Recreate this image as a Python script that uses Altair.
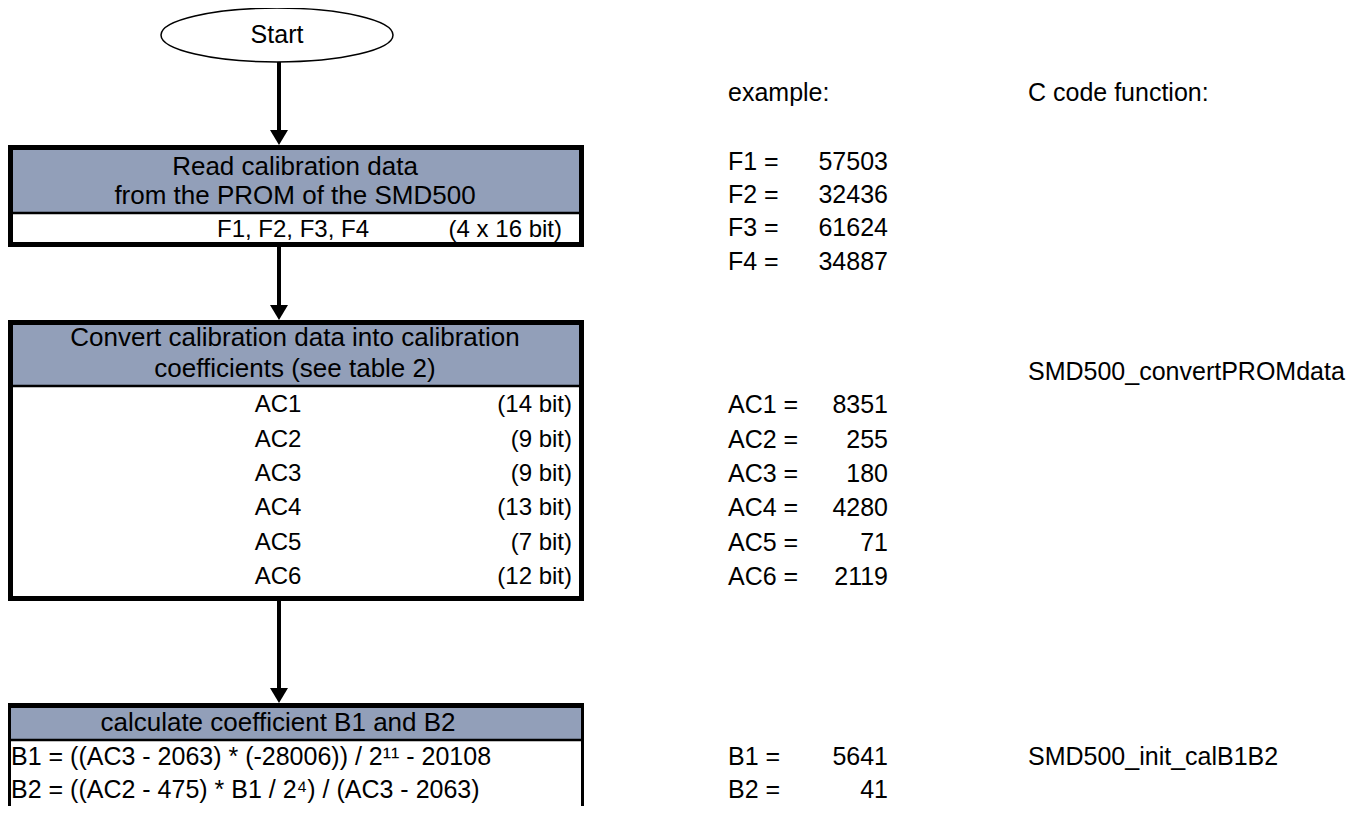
import altair as alt
import pandas as pd

# ---------------- content ----------------
start_label = "Start"
step1_title = ["Read calibration data", "from the PROM of the SMD500"]
step2_title = ["Convert calibration data into calibration", "coefficients (see table 2)"]
step3_title = ["calculate coefficient B1 and B2"]
prom_names = ["F1", "F2", "F3", "F4"]
prom_values = [57503, 32436, 61624, 34887]
prom_bits = "(4 x 16 bit)"
coef_names = ["AC1", "AC2", "AC3", "AC4", "AC5", "AC6"]
coef_bits = [14, 9, 9, 13, 7, 12]
coef_values = [8351, 255, 180, 4280, 71, 2119]
b_names = ["B1", "B2"]
b_values = [5641, 41]
b_formulas = ["B1 = ((AC3 - 2063) * (-28006)) / 2\u00b9\u00b9 - 20108",
              "B2 = ((AC2 - 475) * B1 / 2\u2074) / (AC3 - 2063)"]
col_heads = ["example:", "C code function:"]
c_functions = ["SMD500_convertPROMdata", "SMD500_init_calB1B2"]

# ---------------- layout (page pixels) ----------------
FONT = "Liberation Sans"
FS_BOX = 24
FS_HEAD = 26
FS_FORM = 25
FS_SIDE = 25
HEAD_FILL = "#929fb9"
BOX_L, BOX_R = 8, 584
ARROW_X = 279
HEAD_MID = 295
BODY_MID = 278
BITS_R = 572
EX_L, EX_R = 728, 888
FN_L = 1028

box1 = dict(top=145, sep=213, bot=247)
box2 = dict(top=320, sep=386, bot=601)
box3 = dict(top=703, sep=740, bot=812)

head1_y = [167, 196]
prom_row_y = 230
head2_y = [338, 369]
coef_y = [405, 440, 474, 508, 543, 577]
head3_y = [723]
b_y = [757, 790]
prom_ex_y = [162, 195, 228, 262]
head_row_y = 93
fn_y = [372, 757]

X = lambda f="x": alt.X(f"{f}:Q", scale=alt.Scale(domain=[8, 1355], nice=False, zero=False), axis=None)
Y = lambda f="y": alt.Y(f"{f}:Q", scale=alt.Scale(domain=[8, 806], nice=False, zero=False, reverse=True), axis=None)

# header fills
fills = pd.DataFrame([dict(x=BOX_L, x2=BOX_R, y=b["top"], y2=b["sep"]) for b in (box1, box2, box3)])
fill_layer = alt.Chart(fills).mark_rect(color=HEAD_FILL).encode(
    x=X(), x2="x2:Q", y=Y(), y2="y2:Q")

# separators between header and body
seps = pd.DataFrame([dict(x=BOX_L, x2=BOX_R, y=b["sep"]) for b in (box1, box2, box3)])
sep_layer = alt.Chart(seps).mark_rule(color="black", strokeWidth=2.5).encode(
    x=X(), x2="x2:Q", y=Y())

# thick outlines for boxes 1 and 2
outl = pd.DataFrame([
    dict(x=BOX_L + 2.5, x2=BOX_R - 2.5, y=b["top"] + 2.5, y2=b["bot"] - 2.5) for b in (box1, box2)
])
outline_layer = alt.Chart(outl).mark_rect(fillOpacity=0, stroke="black", strokeWidth=5).encode(
    x=X(), x2="x2:Q", y=Y(), y2="y2:Q")

# box 3: thinner outline with thick top
out3 = pd.DataFrame([dict(x=BOX_L + 1.5, x2=BOX_R - 1.5, y=box3["top"] + 1.5, y2=box3["bot"] - 1.5)])
out3_layer = alt.Chart(out3).mark_rect(fillOpacity=0, stroke="black", strokeWidth=3).encode(
    x=X(), x2="x2:Q", y=Y(), y2="y2:Q")
top3 = pd.DataFrame([dict(x=BOX_L, x2=BOX_R, y=box3["top"] + 2.5)])
top3_layer = alt.Chart(top3).mark_rule(color="black", strokeWidth=5).encode(
    x=X(), x2="x2:Q", y=Y())

# start ellipse
ell = pd.DataFrame([dict(x=277, y=35)])
ell_layer = alt.Chart(ell).mark_point(
    shape="M-1,0A1,0.232,0,1,1,1,0A1,0.232,0,1,1,-1,0Z",
    size=232 ** 2, filled=False, color="black", strokeWidth=1.5, opacity=1).encode(x=X(), y=Y())

# arrows
arrows = pd.DataFrame([
    dict(x=ARROW_X, y=62, y2=box1["top"] - 12),
    dict(x=ARROW_X, y=box1["bot"], y2=box2["top"] - 12),
    dict(x=ARROW_X, y=box2["bot"], y2=box3["top"] - 12),
])
arrow_layer = alt.Chart(arrows).mark_rule(color="black", strokeWidth=4).encode(
    x=X(), y=Y(), y2="y2:Q")
heads = pd.DataFrame([dict(x=ARROW_X, y=t - 7.5) for t in (box1["top"], box2["top"], box3["top"])])
head_layer = alt.Chart(heads).mark_point(
    shape="M-1,-0.83L1,-0.83L0,0.83Z", size=18 ** 2, filled=True, color="black", opacity=1).encode(
    x=X(), y=Y())

# text
def txt(rows, align, fs):
    df = pd.DataFrame(rows, columns=["x", "y", "t"])
    return alt.Chart(df).mark_text(align=align, baseline="middle", font=FONT, fontSize=fs,
                                   color="black").encode(x=X(), y=Y(), text="t:N")

head_rows = [(HEAD_MID, y, t) for y, t in zip(head1_y, step1_title)]
head_rows += [(HEAD_MID, y, t) for y, t in zip(head2_y, step2_title)]
head_rows += [(278, y, t) for y, t in zip(head3_y, step3_title)]

center_rows = [(293, prom_row_y, ", ".join(prom_names))]
center_rows += [(BODY_MID, y, n) for y, n in zip(coef_y, coef_names)]

right_box = [(562, prom_row_y, prom_bits)]
right_box += [(BITS_R, y, f"({b} bit)") for y, b in zip(coef_y, coef_bits)]

right_side = [(EX_R, y, str(v)) for y, v in zip(prom_ex_y, prom_values)]
right_side += [(EX_R, y, str(v)) for y, v in zip(coef_y, coef_values)]
right_side += [(EX_R, y, str(v)) for y, v in zip(b_y, b_values)]

left_box = [(11, y, f) for y, f in zip(b_y, b_formulas)]

left_side = [(EX_L, head_row_y, col_heads[0]), (FN_L, head_row_y, col_heads[1])]
left_side += [(EX_L, y, f"{n} =") for y, n in zip(prom_ex_y, prom_names)]
left_side += [(EX_L, y, f"{n} =") for y, n in zip(coef_y, coef_names)]
left_side += [(EX_L, y, f"{n} =") for y, n in zip(b_y, b_names)]
left_side += [(FN_L, y, f) for y, f in zip(fn_y, c_functions)]

chart = alt.layer(
    fill_layer, sep_layer, outline_layer, out3_layer, top3_layer,
    ell_layer, arrow_layer, head_layer,
    txt([(277, 35, start_label)], "center", 25),
    txt(head_rows, "center", FS_HEAD), txt(center_rows, "center", FS_BOX),
    txt(right_box, "right", FS_BOX), txt(left_box, "left", FS_FORM),
    txt(right_side, "right", FS_SIDE), txt(left_side, "left", FS_SIDE),
).properties(
    width=1347, height=798, padding=0, autosize=alt.AutoSizeParams(type="none"),
    background="white",
).configure_view(stroke=None)

chart.save("out.html", embed_options={"renderer": "svg", "actions": False})
